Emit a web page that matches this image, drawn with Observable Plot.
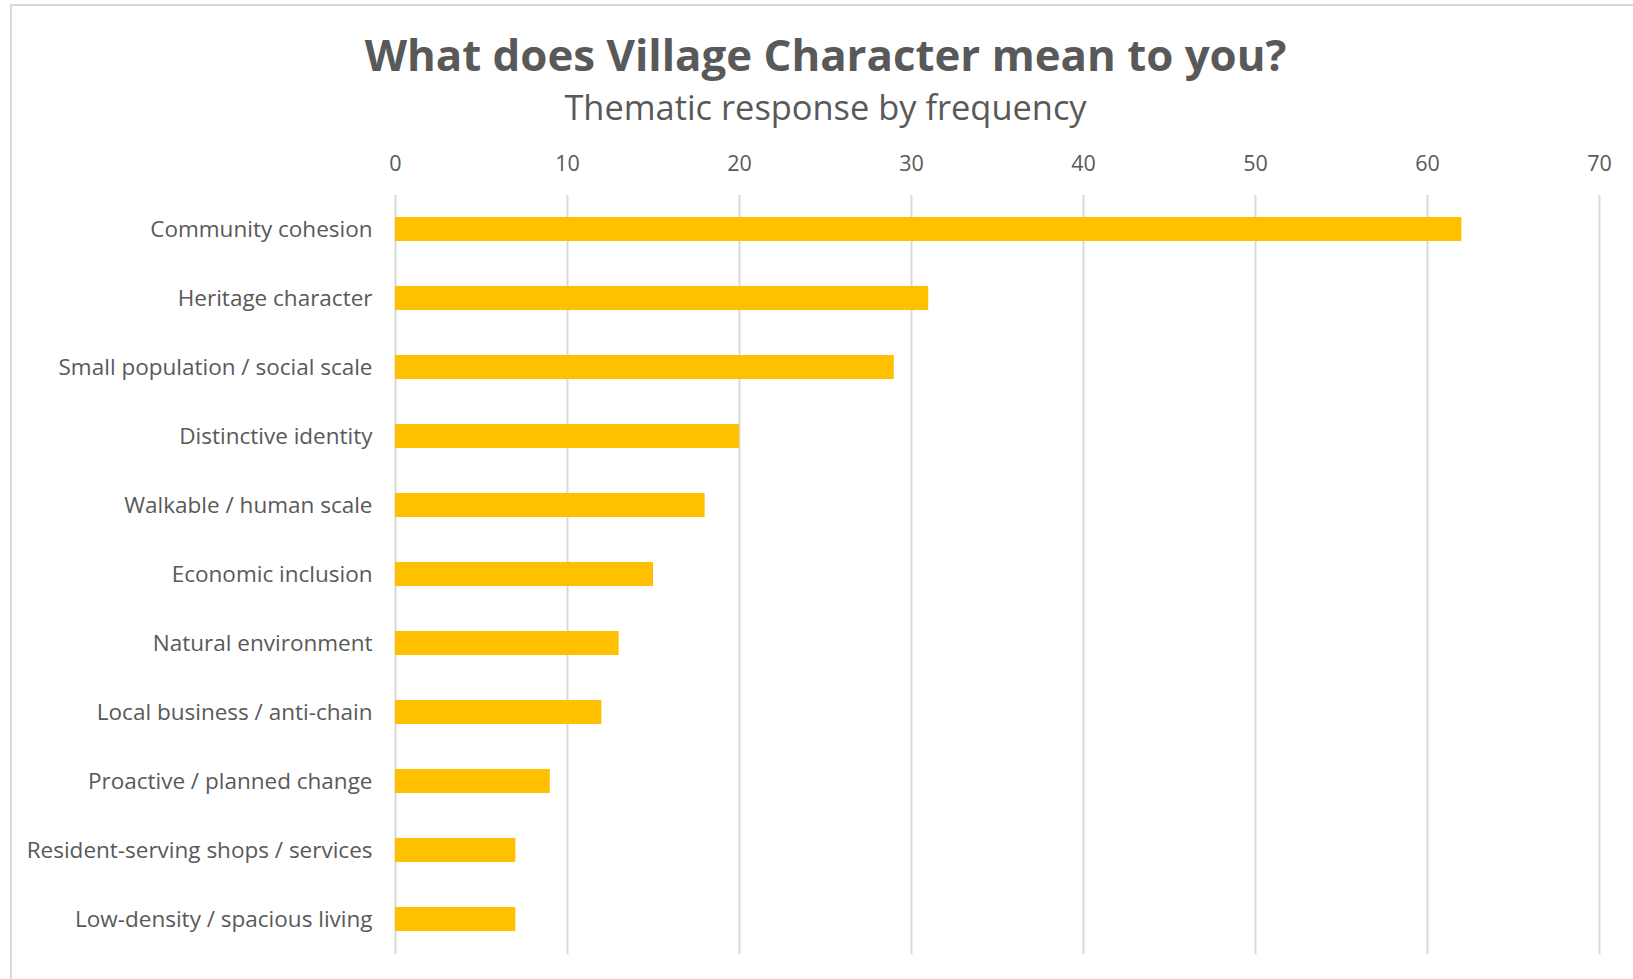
<!DOCTYPE html>
<html>
<head>
<meta charset="utf-8">
<script src="https://cdn.jsdelivr.net/npm/d3@7"></script>
<script src="https://cdn.jsdelivr.net/npm/@observablehq/plot@0.6"></script>
<style>
  html, body { margin: 0; padding: 0; background: #fff; }
  body { width: 1633px; height: 979px; overflow: hidden; position: relative; font-family: "Open Sans", Lato, sans-serif; }
  #frame { position: absolute; left: 10px; top: 4px; width: 1700px; height: 1100px; border: 2px solid #d9d9d9; box-sizing: border-box; }
  #title { position: absolute; left: 9px; width: 1633px; top: 28px; text-align: center; font-size: 43.8px; font-weight: 700; color: #595959; line-height: 52px; }
  #subtitle { position: absolute; left: 9px; width: 1633px; top: 86px; text-align: center; font-size: 34.4px; color: #595959; line-height: 42px; }
  #chart { position: absolute; left: 0; top: 141px; }
</style>
</head>
<body>
<div id="frame"></div>
<div id="title">What does Village Character mean to you?</div>
<div id="subtitle">Thematic response by frequency</div>
<div id="chart"></div>
<script>
const categories = [
  "Community cohesion",
  "Heritage character",
  "Small population / social scale",
  "Distinctive identity",
  "Walkable / human scale",
  "Economic inclusion",
  "Natural environment",
  "Local business / anti-chain",
  "Proactive / planned change",
  "Resident-serving shops / services",
  "Low-density / spacious living"
];
const values = [62, 31, 29, 20, 18, 15, 13, 12, 9, 7, 7];
const xTicks = [0, 10, 20, 30, 40, 50, 60, 70];

const data = categories.map((c, i) => ({category: c, value: values[i]}));

const chart = Plot.plot({
  width: 1633,
  height: 833,
  marginLeft: 395,
  marginRight: 34,
  marginTop: 54,
  marginBottom: 20,
  style: {fontFamily: "'Open Sans', Lato, sans-serif", color: "#595959", background: "transparent"},
  x: {domain: [0, 70]},
  y: {domain: categories, paddingInner: 0.652, paddingOuter: 0.326},
  marks: [
    Plot.gridX(xTicks, {stroke: "#d9d9d9", strokeOpacity: 1, strokeWidth: 2}),
    Plot.barX(data, {x: "value", y: "category", fill: "#FFC000"}),
    Plot.axisX(xTicks, {anchor: "top", tickSize: 0, tickPadding: 25, fontSize: 21.5, fill: "#595959", label: null}),
    Plot.axisY({tickSize: 0, tickPadding: 23, fontSize: 22.5, fill: "#595959", label: null})
  ]
});
document.getElementById("chart").appendChild(chart);
</script>
</body>
</html>
